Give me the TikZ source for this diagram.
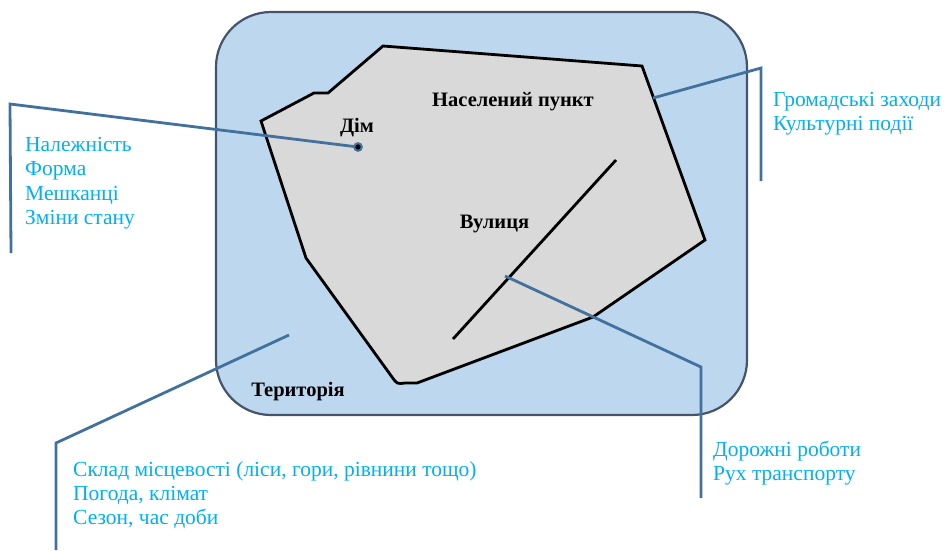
\documentclass[tikz,border=0pt]{standalone}
\usepackage{fontspec}
\setmainfont{Liberation Serif}
\definecolor{terrfill}{RGB}{189,215,238}
\definecolor{terrline}{RGB}{68,84,106}
\definecolor{townfill}{RGB}{217,217,217}
\definecolor{callout}{RGB}{65,113,156}
\definecolor{notetext}{RGB}{0,176,240}
\tikzset{
  callline/.style={draw=callout, line width=2.8pt, line join=miter},
  notes/.style={text=notetext, font=\fontsize{21.5}{24.3}\selectfont, align=left, anchor=north west, inner sep=0pt},
  boldlbl/.style={font=\fontsize{20.5}{22}\selectfont\bfseries, inner sep=0pt, anchor=base}
}
\begin{document}
\begin{tikzpicture}[x=1pt,y=-1pt]
\useasboundingbox (0,0) rectangle (947,550);
% territory
\draw[fill=terrfill, draw=terrline, line width=2.2pt, rounded corners=55pt] (216,12) rectangle (747,415);
% settlement polygon
\draw[fill=townfill, line width=2.8pt, line join=miter]
  (383,46) -- (642,66) -- (705,240) -- (593,317) -- (417,383) -- (405,383)
  .. controls (397,384) .. (392,377) -- (306,258) -- (261,121) -- (314,93) -- (328,93) -- cycle;
% street
\draw[line width=2.8pt] (453,339) -- (616,160);
% labels
\node[boldlbl] (town) at (513,106) {Населений пункт};
\node[boldlbl] (home) at (357,132.3) {Дім};
\node[boldlbl] (street) at (494.5,228.3) {Вулиця};
\node[boldlbl] (terr) at (298,396) {Територія};
% notes
\node[notes] (homenotes) at (25,137) {Належність\\Форма\\Мешканці\\Зміни стану};
\node[notes] (townnotes) at (773,92) {Громадські заходи\\Культурні події};
\node[notes] (streetnotes) at (713,441) {Дорожні роботи\\Рух транспорту};
\node[notes] (terrnotes) at (73,461) {Склад місцевості (ліси, гори, рівнини тощо)\\Погода, клімат\\Сезон, час доби};
% anchor points
\coordinate (homept) at (358,147);
\coordinate (homebend) at (10,104);
\coordinate (homeend) at (11,253);
\coordinate (townpt) at (653,98);
\coordinate (townbend) at (761,68);
\coordinate (townend) at (761,181);
\coordinate (streetpt) at (505,276);
\coordinate (streetbend) at (701,367);
\coordinate (streetend) at (701,498);
\coordinate (terrpt) at (289,335);
\coordinate (terrbend) at (56,443);
\coordinate (terrend) at (56,550);
% callouts
\draw[callline] (homept) -- (homebend) -- (homeend);
\draw[callline] (townpt) -- (townbend) -- (townend);
\draw[callline] (streetpt) -- (streetbend) -- (streetend);
\draw[callline] (terrpt) -- (terrbend) -- (terrend);
\fill[black, draw=callout, line width=2pt] (homept) circle (3.8pt);
\end{tikzpicture}
\end{document}
